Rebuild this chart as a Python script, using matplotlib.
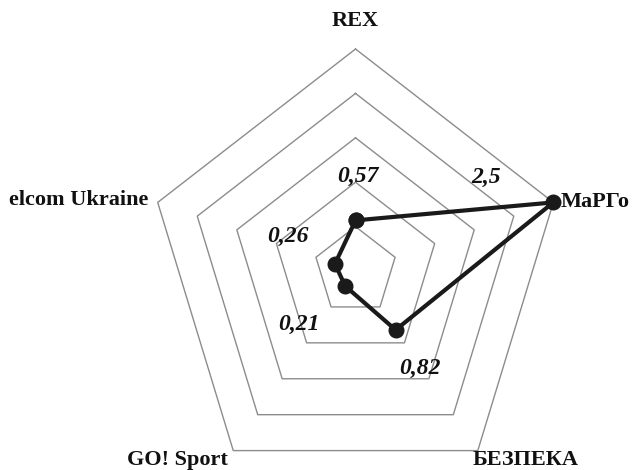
import numpy as np
import matplotlib
matplotlib.use("Agg")
import matplotlib.pyplot as plt

# data
categories = ["REX", "МаРГо", "БЕЗПЕКА", "GO! Sport", "elcom Ukraine"]
values = [0.57, 2.5, 0.82, 0.21, 0.26]
value_labels = ["0,57", "2,5", "0,82", "0,21", "0,26"]
ring_levels = [0.5, 1.0, 1.5, 2.0, 2.5]

# layout (value-units), picked by eye
cat_label_pos = [(0.0, 2.82, "center", "center"),
                 (2.47, 0.78, "left", "center"),
                 (2.05, -2.13, "center", "center"),
                 (-2.14, -2.13, "center", "center"),
                 (-2.49, 0.80, "right", "center")]
val_label_pos = [(0.03, 1.06), (1.57, 1.05), (0.77, -1.10), (-0.68, -0.60), (-0.81, 0.39)]

plt.rcParams['font.family'] = ['Liberation Serif', 'DejaVu Serif']

n = len(categories)
angles = np.pi / 2 - np.arange(n) * 2 * np.pi / n

fig = plt.figure(figsize=(6.36, 4.70), dpi=100)
ax = fig.add_axes([0, 0, 1, 1])
ax.set_xlim(-4.273, 3.371)
ax.set_ylim(-2.241, 3.052)
ax.axis('off')

# pentagon grid
for r in ring_levels:
    xs = np.append(r * np.cos(angles), r * np.cos(angles[0]))
    ys = np.append(r * np.sin(angles), r * np.sin(angles[0]))
    ax.plot(xs, ys, color='#8c8c8c', lw=1.0, zorder=1)

# data line
v = np.array(values)
xs = np.append(v * np.cos(angles), v[0] * np.cos(angles[0]))
ys = np.append(v * np.sin(angles), v[0] * np.sin(angles[0]))
ax.plot(xs, ys, color='#1a1a1a', lw=3, marker='o', markersize=10.5, zorder=3)

for (x, y, ha, va), name in zip(cat_label_pos, categories):
    ax.text(x, y, name, ha=ha, va=va, fontsize=16, fontweight='bold', color='#111111')

for (x, y), lab in zip(val_label_pos, value_labels):
    ax.text(x, y, lab, ha='center', va='center', fontsize=17, fontweight='bold',
            fontstyle='italic', color='#111111')

fig.savefig("out.png", dpi=100)
